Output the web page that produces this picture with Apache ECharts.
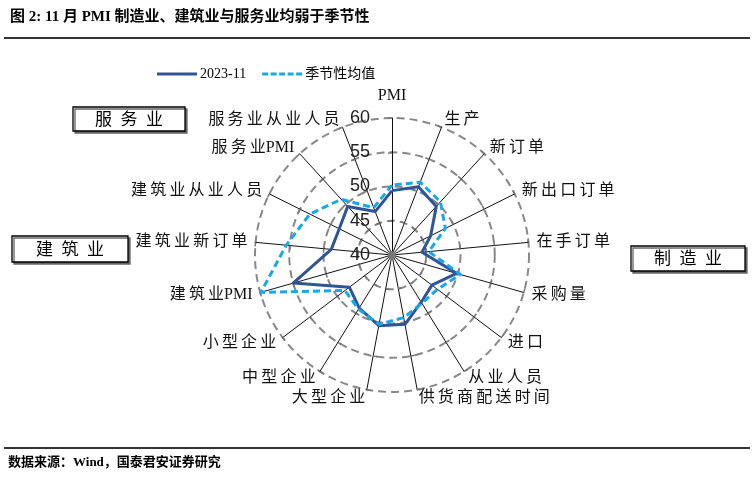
<!DOCTYPE html>
<html>
<head>
<meta charset="utf-8">
<script src="https://cdn.jsdelivr.net/npm/echarts@6/dist/echarts.min.js"></script>
<style>
html,body{margin:0;padding:0;background:#fff}
#main{width:754px;height:479px}
</style>
</head>
<body>
<div id="main"></div>
<script>
// 指标（顺时针，从正上方开始）
var categories = ['PMI', '生产', '新订单', '新出口订单', '在手订单', '采购量', '进口', '从业人员',
    '供货商配送时间', '大型企业', '中型企业', '小型企业', '建筑业PMI', '建筑业新订单',
    '建筑业从业人员', '服务业PMI', '服务业从业人员'];
var values2023 = [49.4, 50.7, 49.6, 46.3, 44.4, 49.8, 47.3, 48.1, 50.3, 50.5, 49.1, 47.8, 55.0, 48.9, 48.6, 49.6, 46.8];
var valuesSeasonal = [50.2, 51.4, 50.5, 48.7, 45.4, 50.4, 48.3, 48.3, 49.3, 50.3, 49.3, 48.6, 59.9, 55.5, 53.4, 51.0, 47.4];
var tickLabels = [40, 45, 50, 55, 60];
var seriesNames = ['2023-11', '季节性均值'];

var FONT = '"Liberation Serif", "Noto Sans CJK SC", serif';
var CN = '"Noto Sans CJK SC", sans-serif';

// echarts 雷达图是逆时针排列，这里把顺序倒过来变成顺时针
function clockwise(arr) {
    return [arr[0]].concat(arr.slice(1).reverse());
}
// 汉字之间加一点间距，接近原图的宋体排版
function spaced(s, sp) {
    return s.replace(/([\u3000-\u9fff])(?=[\u3000-\u9fff])/g, '$1' + sp);
}

var names = clockwise(categories);
var indicators = names.map(function (n, i) {
    var ind = { name: n, min: tickLabels[0], max: tickLabels[tickLabels.length - 1] };
    if (i === 0) {
        ind.nameGap = 14;
        ind.axisLabel = {
            show: true, fontSize: 18, color: '#222', margin: 22,
            fontFamily: '"Liberation Sans", Arial, sans-serif'
        };
    }
    return ind;
});
var indicators2 = names.map(function (n) {
    return { name: n, min: tickLabels[0], max: tickLabels[tickLabels.length - 1] };
});

var dashIcon = 'path://M0,0H6V3H0Z M8.5,0H14.5V3H8.5Z M17,0H23V3H17Z M25.5,0H31.5V3H25.5Z M34,0H40V3H34Z';

var myChart = echarts.init(document.getElementById('main'));
var option = {
    animation: false,
    legend: {
        left: 157,
        top: 67,
        padding: 0,
        itemWidth: 40,
        itemHeight: 3,
        itemGap: 16,
        textStyle: { fontSize: 14, fontFamily: FONT, color: '#000', padding: [0, 0, 0, -2] },
        data: [
            { name: seriesNames[0], icon: 'path://M0,0H40V3H0Z', itemStyle: { borderWidth: 0 } },
            { name: seriesNames[1], icon: dashIcon, itemStyle: { borderWidth: 0 } }
        ]
    },
    radar: [{
        center: [392, 255],
        radius: 137,
        startAngle: 90,
        shape: 'circle',
        splitNumber: tickLabels.length - 1,
        indicator: indicators,
        nameGap: 8,
        axisName: {
            color: '#111', fontSize: 16, fontFamily: FONT,
            formatter: function (v) { return spaced(v, '\u2009'); }
        },
        axisLine: { lineStyle: { color: '#111', width: 1 } },
        axisTick: { show: true, length: 4, lineStyle: { color: '#777', width: 1.5 } },
        axisLabel: { show: false },
        splitLine: { lineStyle: { color: '#888', width: 2, type: [8, 5] } },
        splitArea: { show: false }
    }, {
        // 第二个只画另一侧的刻度，组成十字刻度
        center: [392, 255],
        radius: 137,
        startAngle: 90,
        shape: 'circle',
        splitNumber: tickLabels.length - 1,
        indicator: indicators2,
        axisName: { show: false },
        axisLine: { show: false },
        axisTick: { show: true, inside: true, length: 4, lineStyle: { color: '#777', width: 1.5 } },
        axisLabel: { show: false },
        splitLine: { show: false },
        splitArea: { show: false }
    }],
    series: [{
        type: 'radar',
        radarIndex: 0,
        symbol: 'none',
        z: 2,
        itemStyle: { color: '#2F5597' },
        lineStyle: { color: '#2F5597', width: 3 },
        data: [{ name: seriesNames[0], value: clockwise(values2023) }]
    }, {
        type: 'radar',
        radarIndex: 0,
        symbol: 'none',
        z: 3,
        itemStyle: { color: '#16A9E8' },
        lineStyle: { color: '#16A9E8', width: 3, type: [7, 4] },
        data: [{ name: seriesNames[1], value: clockwise(valuesSeasonal) }]
    }],
    graphic: [
        {
            type: 'text', left: 10, top: 10,
            style: { text: '图 2: 11 月 PMI 制造业、建筑业与服务业均弱于季节性', font: 'bold 15px ' + FONT, fill: '#000' }
        },
        { type: 'line', shape: { x1: 4, y1: 38, x2: 750, y2: 38 }, style: { stroke: '#333', lineWidth: 2 } },
        { type: 'line', shape: { x1: 4, y1: 448, x2: 750, y2: 448 }, style: { stroke: '#333', lineWidth: 2 } },
        {
            type: 'text', left: 8, top: 456,
            style: { text: '数据来源：Wind，国泰君安证券研究', font: 'bold 13px ' + FONT, fill: '#000' }
        },
        // 三个分组标注框
        {
            type: 'rect', shape: { x: 73, y: 107, width: 112, height: 24 },
            style: { fill: '#fff', stroke: '#000', lineWidth: 1.3, shadowColor: '#666', shadowOffsetX: 2, shadowOffsetY: 2 }
        },
        {
            type: 'text', x: 129, y: 119,
            style: { text: spaced('服务业', '\u2002'), font: '17px ' + CN, fill: '#000', align: 'center', verticalAlign: 'middle' }
        },
        {
            type: 'rect', shape: { x: 12, y: 236, width: 116, height: 26 },
            style: { fill: '#fff', stroke: '#000', lineWidth: 1.3, shadowColor: '#666', shadowOffsetX: 2, shadowOffsetY: 2 }
        },
        {
            type: 'text', x: 70, y: 249,
            style: { text: spaced('建筑业', '\u2002'), font: '17px ' + CN, fill: '#000', align: 'center', verticalAlign: 'middle' }
        },
        {
            type: 'rect', shape: { x: 631, y: 246, width: 114, height: 25 },
            style: { fill: '#fff', stroke: '#000', lineWidth: 1.3, shadowColor: '#666', shadowOffsetX: 2, shadowOffsetY: 2 }
        },
        {
            type: 'text', x: 688, y: 258,
            style: { text: spaced('制造业', '\u2002'), font: '17px ' + CN, fill: '#000', align: 'center', verticalAlign: 'middle' }
        }
    ]
};
myChart.setOption(option);
</script>
</body>
</html>
